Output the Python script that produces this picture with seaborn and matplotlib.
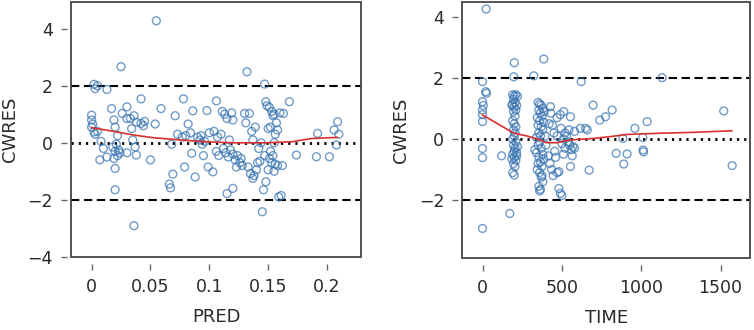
import numpy as np
import seaborn as sns
import matplotlib.pyplot as plt
from matplotlib.patches import Rectangle

# ---- left panel data: CWRES vs PRED ----
pred = [0.002, 0.005, 0.003, 0.0, 0.0, 0.001, 0.0, 0.002, 0.003, 0.005,
        0.013, 0.008, 0.010, 0.007, 0.013,
        0.017, 0.019, 0.020, 0.018, 0.020, 0.022, 0.019, 0.021, 0.023, 0.024, 0.020, 0.020, 0.025, 0.022,
        0.026, 0.030, 0.030, 0.033, 0.034, 0.036, 0.038, 0.030, 0.037, 0.038, 0.036, 0.035,
        0.042, 0.042, 0.045, 0.044, 0.050, 0.054, 0.059, 0.055,
        0.066, 0.067, 0.069, 0.068, 0.071, 0.073, 0.078, 0.077, 0.079, 0.080,
        0.082, 0.084, 0.085, 0.086, 0.088, 0.090, 0.092, 0.093, 0.094, 0.095, 0.096, 0.098, 0.099, 0.100,
        0.103, 0.104, 0.106, 0.106, 0.107, 0.108, 0.110, 0.111, 0.112, 0.113, 0.114, 0.115, 0.115, 0.116,
        0.117, 0.118, 0.119, 0.120, 0.120, 0.120,
        0.122, 0.123, 0.124, 0.126, 0.127, 0.128, 0.130, 0.131, 0.132, 0.133, 0.134, 0.135, 0.136, 0.137,
        0.137, 0.138, 0.139, 0.140, 0.141, 0.142,
        0.143, 0.144, 0.145, 0.146, 0.147, 0.147, 0.148, 0.148, 0.149, 0.150, 0.150, 0.151, 0.151, 0.152,
        0.152, 0.153, 0.153, 0.154, 0.154, 0.155, 0.155, 0.155, 0.156, 0.156, 0.157, 0.158, 0.159, 0.160,
        0.161, 0.162, 0.158,
        0.168, 0.174, 0.192, 0.191, 0.202, 0.206, 0.209, 0.208, 0.210, 0.163]
cwres_pred = [2.05, 2.00, 1.90, 0.97, 0.80, 0.65, 0.55, 0.38, 0.30, 0.40,
              1.87, 0.05, -0.20, -0.60, -0.50,
              1.20, 0.80, 0.55, -0.15, -0.30, -0.45, -0.55, -0.05, -0.25, -0.35, -0.90, -1.65, 2.67, 0.25,
              1.03, 1.26, 0.85, 0.85, 0.50, 0.95, 0.72, -0.35, -0.15, -0.43, -2.91, 0.10,
              1.54, 0.68, 0.75, 0.60, -0.60, 0.66, 1.20, 4.28,
              -1.45, -1.58, -1.10, -0.05, 0.95, 0.30, 1.54, 0.20, -0.85, 0.25,
              0.66, 0.35, -0.37, 1.12, -1.20, 0.20, 0.10, 0.25, -0.05, -0.45, 0.05, 1.13, -0.85, 0.35,
              -1.02, 0.40, 1.47, -0.30, 0.20, -0.45, 0.30, 1.10, -0.20, 1.00, -0.35, -1.78, 0.85, -0.50,
              0.10, -0.25, 1.05, -1.60, 0.80, -0.40,
              -0.60, -0.85, -0.45, -0.70, -0.55, -0.80, 1.03, 0.70, 2.49, -0.85, 1.03, -1.08, 0.40, 0.10,
              -1.25, -1.15, 0.55, -0.95, -0.70, -0.20,
              -0.65, 0.00, -2.42, -1.65, 2.06, -0.45, 1.44, -1.37, 1.30, -0.95, 0.50, 1.25, -0.55, 0.55,
              -0.30, 1.10, -0.70, 0.95, -0.45, 0.00, 1.00, -1.00, 0.30, -0.75, 0.70, -0.80, -1.90, 1.05,
              -1.85, -0.80, 0.45,
              1.44, -0.43, 0.33, -0.49, -0.49, 0.45, 0.74, -0.08, 0.30, 1.03]
# smooth (loess) curve
smooth_pred_x = [0.0, 0.016, 0.036, 0.052, 0.078, 0.097, 0.120, 0.148, 0.170, 0.187, 0.209]
smooth_pred_y = [0.53, 0.42, 0.27, 0.18, 0.09, 0.035, 0.0, 0.0, 0.035, 0.15, 0.19]

# ---- right panel data: CWRES vs TIME ----
time = [23, 0, 20, 25, 0, 5, 0, 0, 0, 0, 0, 0,
        120, 172,
        200, 197, 190, 200, 210, 220, 195, 205, 190, 215, 200, 185, 210, 195, 205, 190, 200, 210, 195,
        205, 200, 190, 210, 195, 205, 200, 190, 215, 200, 210, 195, 205, 190, 200, 215, 185, 220,
        323, 386, 350, 360, 370, 380, 355, 365, 375, 345, 360, 385, 350, 370, 380, 355, 365, 340, 350,
        360, 370, 380, 355, 365, 375, 345, 360, 370, 380, 355, 365, 360, 375, 350, 385, 340, 330, 390,
        395, 400,
        428, 430, 420, 440, 415, 425, 435, 445, 455, 460, 470, 481, 481, 491, 500, 470, 490, 512, 554,
        520, 530, 540, 550, 560, 570, 545, 520, 500, 510, 554, 565, 580, 580, 510, 495, 470, 450,
        622, 617, 649, 660, 697, 672, 739, 775, 817, 842, 890, 911, 884, 960, 1010, 1012, 1015, 1037,
        1132, 1520, 1573]
cwres_time = [4.26, 1.88, 1.55, 1.50, 1.22, 1.10, 0.95, 0.80, 0.57, -0.31, -0.61, -2.93,
              -0.55, -2.44,
              2.50, 2.04, 1.45, 1.40, 1.45, 1.40, 1.30, 1.20, 1.15, 1.10, 1.05, 1.10, 0.95, 0.90, 0.75,
              0.60, 0.50, 0.40, 0.30, 0.20, 0.10, 0.00, -0.10, -0.20, -0.30, -0.40, -0.50, -0.55, -0.60,
              -0.70, -0.80, -0.90, -1.10, -1.18, -0.45, -0.65, -0.25,
              2.07, 2.62, 1.20, 1.15, 1.10, 1.00, 0.95, 0.85, 0.75, 0.70, 0.60, 0.55, 0.45, 0.40, 0.30,
              0.20, 0.10, -0.45, -0.20, -0.10, -0.30, -0.50, -0.60, -0.75, -0.90, -1.00, -1.10, -1.25,
              -1.40, -1.55, -1.65, -1.70, -1.20, -0.80, -0.65, 0.05, -0.35, 0.90, 0.10, -0.20,
              1.06, 0.85, 0.50, 0.45, -0.55, -0.80, -1.00, -1.20, -0.40, -0.60, -1.10, -1.07, -1.62,
              -1.78, -1.85, 0.70, 0.80, 0.90, 0.73, 0.20, 0.10, -0.10, -0.20, -0.35, -0.25, 0.30, -0.30,
              -0.15, -0.50, -0.90, -0.55, -0.30, 0.25, 0.00, 0.35, 0.10, 0.20,
              1.88, 0.35, 0.35, 0.30, 1.11, -1.02, 0.62, 0.73, 0.95, -0.47, -0.82, -0.49, 0.02, 0.35,
              0.05, -0.36, -0.42, 0.57, 2.01, 0.92, -0.87]
smooth_time_x = [0, 92, 197, 281, 365, 400, 470, 554, 701, 806, 911, 1121, 1331, 1573]
smooth_time_y = [0.79, 0.51, 0.19, 0.10, -0.03, -0.12, -0.12, -0.03, 0.02, 0.08, 0.15, 0.19, 0.22, 0.27]

sns.set_style("white")
plt.rcParams['font.family'] = ['DejaVu Sans']

point_col = "#3471b0"
line_col = "#d8302c"
text_col = "#2a2a2a"

fig = plt.figure(figsize=(7.54, 3.30), dpi=100)
ax1 = fig.add_axes([0.094, 0.221, 0.385, 0.773])
ax2 = fig.add_axes([0.613, 0.218, 0.382, 0.776])


def draw_panel(ax, x, y, sx, sy, xlabel, xlim, ylim, xticks, xticklabels, yticks):
    ax.axhline(2, color="black", lw=1.5, ls=(0, (4, 2.2)), zorder=1)
    ax.axhline(-2, color="black", lw=1.5, ls=(0, (4, 2.2)), zorder=1)
    ax.axhline(0, color="black", lw=2.0, ls=(0, (0.8, 1.8)), zorder=1)
    sns.scatterplot(x=x, y=y, ax=ax, marker="o", s=32, facecolors="none",
                    edgecolor=point_col, linewidth=1.0, alpha=0.7, zorder=2)
    sns.lineplot(x=sx, y=sy, ax=ax, color=line_col, lw=1.2, zorder=3)
    ax.set_xlim(*xlim)
    ax.set_ylim(*ylim)
    ax.set_xticks(xticks)
    ax.set_xticklabels(xticklabels)
    ax.set_yticks(yticks)
    ax.set_yticklabels([f"{t:g}".replace("-", "\u2212") for t in yticks])
    # ticks detached from the frame, lattice style
    for side in ["top", "right", "bottom", "left"]:
        ax.spines[side].set_visible(False)
    ax.spines["bottom"].set_position(("outward", 5))
    ax.spines["left"].set_position(("outward", 3))
    ax.add_patch(Rectangle((0, 0), 1, 1, transform=ax.transAxes, fill=False,
                           ec="#444444", lw=1.3, clip_on=False, zorder=5))
    ax.tick_params(axis="both", which="major", length=4, width=1, color="#666666",
                   labelsize=12.5, labelcolor=text_col, pad=6, bottom=True, left=True)
    ax.set_xlabel(xlabel, fontsize=13, color=text_col, labelpad=9)
    ax.set_ylabel("CWRES", fontsize=13, color=text_col, labelpad=6)


draw_panel(ax1, pred, cwres_pred, smooth_pred_x, smooth_pred_y, "PRED",
           (-0.0176, 0.229), (-4.01, 4.94),
           [0, 0.05, 0.1, 0.15, 0.2], ["0", "0.05", "0.1", "0.15", "0.2"], [-4, -2, 0, 2, 4])
draw_panel(ax2, time, cwres_time, smooth_time_x, smooth_time_y, "TIME",
           (-128, 1687), (-3.9, 4.49),
           [0, 500, 1000, 1500], ["0", "500", "1000", "1500"], [-2, 0, 2, 4])

fig.savefig("out.png", dpi=100)
